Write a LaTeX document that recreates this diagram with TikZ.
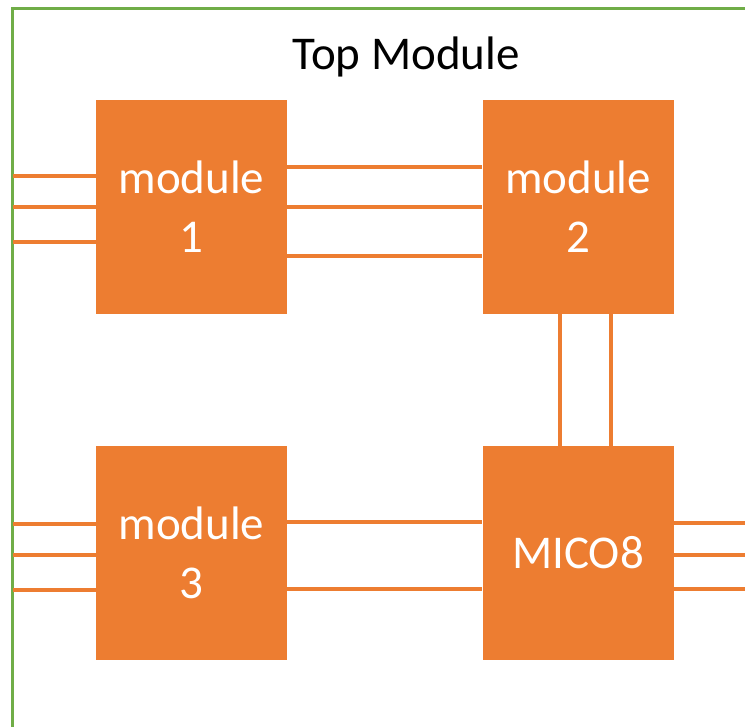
\documentclass[tikz,border=0pt]{standalone}
\usepackage{fontspec}
\setmainfont{Carlito}
\definecolor{boxorange}{HTML}{ED7D31}
\definecolor{framegreen}{HTML}{70AD47}

\begin{document}
\begin{tikzpicture}[x=1pt,y=1pt]
  \def\w{191}
  \def\h{214}

\tikzstyle{block}=[fill=boxorange,text=white,minimum width=\w pt,minimum height=\h pt,inner sep=0pt,align=center,font=\fontsize{47}{59}\selectfont]
\tikzstyle{wire}=[draw=boxorange,line width=3.5pt]
\clip (0,0) rectangle (745,727);
\draw[framegreen,line width=3pt] (12.5,718.5) rectangle (790,-40);
\node[inner sep=0pt] (title) at (406,670) {\fontsize{47}{56}\selectfont Top Module};
\coordinate (L) at (12.5,0);
\coordinate (R) at (790,0);
\node[block] (M1) at (191.5,520) {module\\1};
\node[block] (M2) at (578,520) {module\\2};
\node[block] (M3) at (191.5,174) {module\\3};
\node[block] (MC) at (578,174) {MICO8};
% inputs of module 1
\foreach \dy in {31,0,-35}
  \path[wire] ([yshift=\dy pt]M1.west) -- ([yshift=\dy pt]M1.west -| L);
\foreach \dy in {40,0,-49}
  \path[wire] ([yshift=\dy pt]M1.east) -- ([yshift=\dy pt]M1.east -| M2.west);
\foreach \dx in {-18,33}
  \path[wire] ([xshift=\dx pt]M2.south) -- ([xshift=\dx pt]MC.north);
% inputs of module 3
\foreach \dy in {29,-2,-37}
  \path[wire] ([yshift=\dy pt]M3.west) -- ([yshift=\dy pt]M3.west -| L);
\foreach \dy in {31,-36}
  \path[wire] ([yshift=\dy pt]M3.east) -- ([yshift=\dy pt]M3.east -| MC.west);
\foreach \dy in {30,-2,-36}
  \path[wire] ([yshift=\dy pt]MC.east) -- ([yshift=\dy pt]MC.east -| R);
\end{tikzpicture}
\end{document}
